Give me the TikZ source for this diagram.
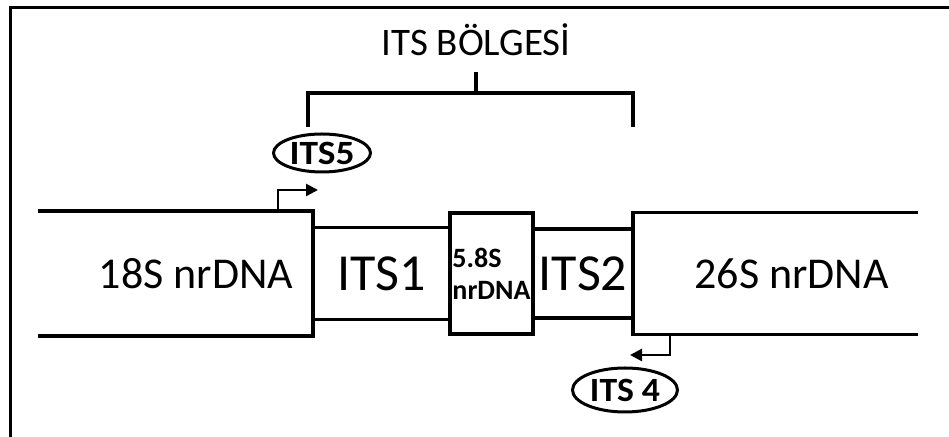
\documentclass[tikz,border=0pt]{standalone}
\usepackage{fontspec}
\setmainfont{Carlito}
\usepackage{graphicx}
\usepackage{tikz}
\usetikzlibrary{arrows.meta,positioning,shapes.geometric}

\begin{document}
\begin{tikzpicture}[
x=0.5pt, y=-0.5pt,
region/.style={inner sep=0pt, outer sep=0pt, align=center},
bigtext/.style={font=\fontsize{26}{30}\selectfont},
genetext/.style={font=\fontsize{22}{26}\selectfont},
outline/.style={line width=1.6pt},
primer/.style={draw, ellipse, line width=1.5pt, inner sep=0pt, font=\fontsize{17}{20}\selectfont\bfseries},
primerarrow/.style={-{Triangle[length=6pt,width=6pt]}, line width=1.3pt},
bracket/.style={line width=1.6pt}
]
\useasboundingbox (0,0) rectangle (949,437);
\draw[line width=1.5pt] (10,437) |- (949,8);

\node[region, minimum width=137.5pt, minimum height=62.5pt] (s18) at (175.5,273.5) {};
\node[region, bigtext, minimum width=68.5pt, minimum height=46pt, right=0pt of s18] (its1) {ITS1};
\node[region, draw, outline, minimum width=41.5pt, minimum height=60.5pt, right=0pt of its1, align=left, font=\fontsize{14}{16}\selectfont\bfseries] (s58) {5.8S\\nrDNA};
\node[region, bigtext, minimum width=50pt, minimum height=44.5pt, right=0pt of s58] (its2) {ITS2};
\node[region, minimum width=142.5pt, minimum height=61pt, right=0pt of its2] (s26) {};
\node[genetext] (l18) at ([xshift=10.25pt]s18.center) {18S nrDNA};
\node[genetext] (l26) at ([xshift=8pt]s26.center) {26S nrDNA};

\draw[outline] (s18.north west) -- (s18.north east) -- (s18.south east) -- (s18.south west);
\draw[outline] (its1.north west) -- (its1.north east);
\draw[outline] (its1.south west) -- (its1.south east);
\draw[outline] (its2.north west) -- (its2.north east);
\draw[outline] (its2.south west) -- (its2.south east);
\draw[outline] (s26.north east) -- (s26.north west) -- (s26.south west) -- (s26.south east);

% ITS region bracket
\node[font=\fontsize{19.5}{22}\selectfont] (title) at (476,40) {ITS BÖLGESİ};
\coordinate (brleft) at (308,127);
\coordinate (brright) at (633,127);
\coordinate (brtop) at (476,72);
\draw[bracket] (brleft) -- ++(0,-34) -| (brright);
\draw[bracket] (brtop) -- ++(0,21);

% primers
\node[primer, minimum width=48.5pt, minimum height=19pt] (its5) at (322,153) {\scalebox{1.1}[1]{ITS5}};
\coordinate (p5end) at (318,190);
\draw[primerarrow] ([xshift=-17.5pt]s18.north east) |- (p5end);
\node[primer, minimum width=52.5pt, minimum height=22pt] (its4) at (625,390) {\scalebox{1.05}[1]{ITS 4}};
\coordinate (p4end) at (630,355);
\draw[primerarrow] ([xshift=18.5pt]s26.south west) |- (p4end);
\end{tikzpicture}
\end{document}
